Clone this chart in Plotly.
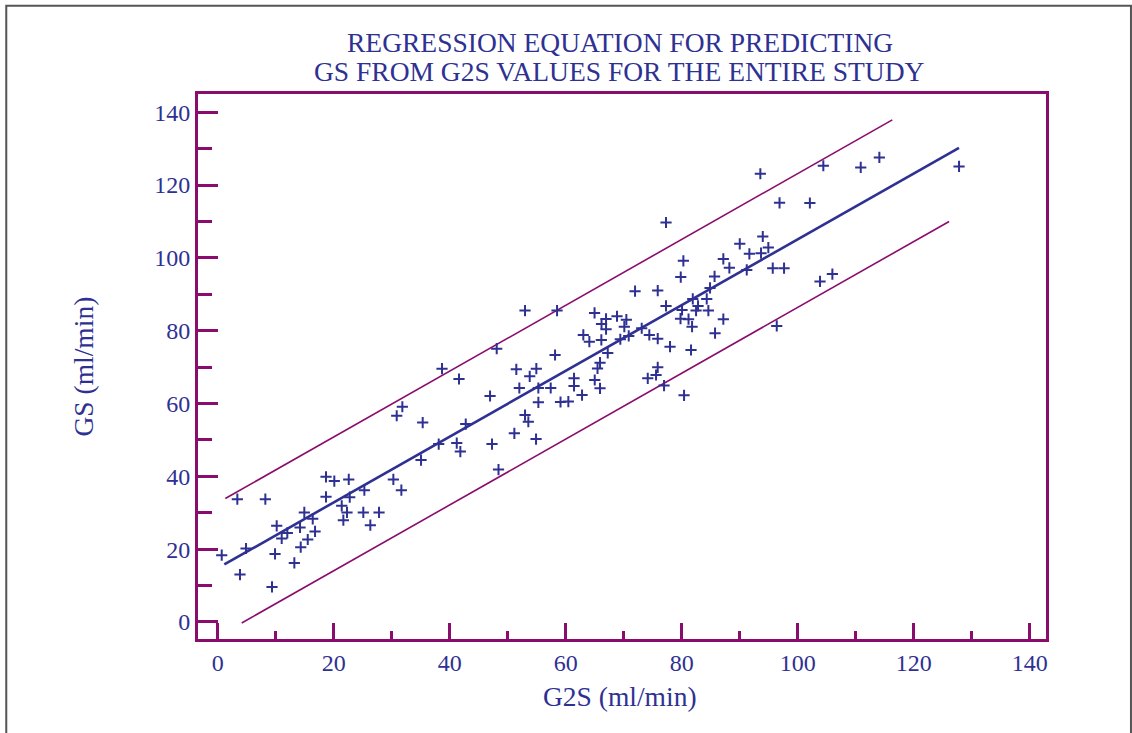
import plotly.graph_objects as go

# ---- data ----
g2s = [0.69, 3.38, 8.21, 4.88, 3.84, 9.36, 10.17, 9.88, 11.03, 12.0,
       13.21, 14.19, 14.31, 14.93, 15.52, 16.38, 16.78, 18.67, 20.10, 22.59,
       18.67, 22.76, 21.38, 22.29, 21.66, 25.10, 27.81, 26.31, 25.28, 30.28,
       31.66, 30.86, 31.83, 35.34, 35.05, 38.10, 41.21, 41.83, 42.76, 46.95,
       47.29, 48.41, 41.60, 38.67, 52.98, 58.50, 48.10, 58.16, 51.48, 54.93,
       53.79, 52.0, 55.28, 57.41, 55.28, 52.98, 53.55, 51.14, 54.88, 59.10,
       60.45, 64.97, 66.95, 66.17, 68.84, 70.45, 70.10, 73.10, 66.95, 63.03,
       64.07, 66.14, 69.41, 70.86, 74.41, 75.86, 67.24, 65.91, 65.48, 61.43,
       65.0, 61.43, 65.91, 62.81, 75.86, 75.57, 74.14, 71.95, 75.86, 76.95,
       80.40, 77.29, 77.98, 81.60, 77.29, 80.28, 79.83, 85.66, 84.88, 81.90,
       82.81, 84.31, 82.47, 84.59, 80.05, 79.79, 81.17, 81.78, 85.74, 87.17,
       96.38, 87.17, 88.21, 91.21, 95.69, 97.64, 90.0, 91.66, 93.67, 93.97,
       94.93, 96.86, 102.09, 93.55, 103.84, 105.97, 104.41, 110.86, 114.07, 127.81]
gs = [18.34, 33.74, 33.74, 20.18, 13.03, 9.62, 26.40, 18.70, 22.93, 24.47,
      16.22, 25.96, 20.54, 30.08, 22.66, 28.32, 24.86, 39.87, 38.69, 39.15,
      34.37, 34.29, 31.89, 30.08, 27.96, 30.08, 30.08, 26.59, 36.21, 39.15,
      36.21, 56.64, 59.11, 54.77, 44.46, 48.86, 49.13, 46.80, 54.36, 62.06,
      48.86, 41.85, 66.73, 69.56, 85.51, 85.51, 75.06, 73.33, 69.40, 69.56,
      67.47, 64.26, 64.26, 64.26, 60.32, 56.83, 54.99, 51.80, 50.23, 60.41,
      60.54, 84.88, 83.23, 81.85, 83.97, 83.03, 81.11, 80.67, 80.40, 78.83,
      76.99, 77.45, 77.65, 78.55, 78.83, 77.81, 73.88, 71.21, 69.62, 66.92,
      66.46, 64.81, 64.17, 62.33, 69.95, 67.83, 66.92, 90.84, 91.01, 64.94,
      62.25, 109.71, 75.61, 74.70, 86.80, 99.18, 94.72, 94.91, 91.75, 88.73,
      86.80, 88.73, 85.51, 85.51, 85.70, 83.31, 83.17, 81.11, 79.32, 83.15,
      81.30, 99.72, 97.25, 96.70, 97.17, 97.17, 103.85, 101.10, 101.29, 105.86,
      102.83, 115.12, 115.07, 123.10, 93.54, 95.55, 125.30, 124.83, 127.58, 125.10]

fit_x = [1.14, 127.8]
fit_y = [15.8, 130.2]
upper_x = [1.31, 116.3]
upper_y = [33.9, 137.9]
lower_x = [4.14, 126.1]
lower_y = [-0.27, 110.0]

tick_vals = [0, 20, 40, 60, 80, 100, 120, 140]
tick_text = ["0", "20", "40", "60", "80", "100", "120", "140"]

title_lines = ["REGRESSION EQUATION FOR PREDICTING",
               "GS FROM G2S VALUES FOR THE ENTIRE STUDY"]
x_title = "G2S (ml/min)"
y_title = "GS (ml/min)"

# ---- style ----
BLUE = "#2E3192"
PURPLE = "#8A0C6C"
FONT = "Liberation Serif"
TITLE_SIZE = 27.5

fig = go.Figure()
fig.add_trace(go.Scatter(x=upper_x, y=upper_y, mode="lines",
                         line=dict(color=PURPLE, width=1.6), hoverinfo="skip"))
fig.add_trace(go.Scatter(x=lower_x, y=lower_y, mode="lines",
                         line=dict(color=PURPLE, width=1.6), hoverinfo="skip"))
fig.add_trace(go.Scatter(x=fit_x, y=fit_y, mode="lines",
                         line=dict(color=BLUE, width=2.6), hoverinfo="skip"))
fig.add_trace(go.Scatter(x=g2s, y=gs, mode="markers",
                         marker=dict(symbol="cross-thin", size=8,
                                     color=BLUE, line=dict(color=BLUE, width=2))))

axis_common = dict(showgrid=False, zeroline=False, showline=True, mirror=True,
                   linecolor=PURPLE, linewidth=3, ticks="inside",
                   tickcolor=PURPLE, tickwidth=2.5,
                   tickvals=tick_vals, ticktext=tick_text,
                   tickfont=dict(family=FONT, size=24, color=BLUE))

fig.update_xaxes(range=[-3.4, 142.8], ticklen=16,
                 minor=dict(ticks="inside", dtick=10, tick0=0, ticklen=8,
                            tickcolor=PURPLE, tickwidth=2.5),
                 **axis_common)
fig.update_yaxes(range=[-4.67, 145.0], ticklen=20,
                 minor=dict(ticks="inside", dtick=10, tick0=0, ticklen=14,
                            tickcolor=PURPLE, tickwidth=2.5),
                 **axis_common)

annotations = [
    dict(text=title_lines[0], x=0.4976, y=1.0936, xref="paper", yref="paper",
         showarrow=False, xanchor="center", yanchor="middle",
         font=dict(family=FONT, size=TITLE_SIZE, color=BLUE)),
    dict(text=title_lines[1], x=0.4976, y=1.0404, xref="paper", yref="paper",
         showarrow=False, xanchor="center", yanchor="middle",
         font=dict(family=FONT, size=TITLE_SIZE, color=BLUE)),
    dict(text=x_title, x=0.4976, y=-0.1064, xref="paper", yref="paper",
         showarrow=False, xanchor="center", yanchor="middle",
         font=dict(family=FONT, size=TITLE_SIZE, color=BLUE)),
    dict(text=y_title, x=-0.1356, y=0.5, xref="paper", yref="paper",
         showarrow=False, xanchor="center", yanchor="middle", textangle=-90,
         font=dict(family=FONT, size=TITLE_SIZE, color=BLUE)),
]

fig.update_layout(
    width=1132, height=733,
    margin=dict(l=198, r=86, t=94, b=94),
    paper_bgcolor="white", plot_bgcolor="white",
    showlegend=False,
    annotations=annotations,
    shapes=[dict(type="rect", xref="paper", yref="paper",
                 x0=-0.2261, x1=1.1002, y0=-0.19, y1=1.1618,
                 line=dict(color="#555555", width=2), fillcolor="rgba(0,0,0,0)",
                 layer="below")],
)

fig.write_html("out.html")
